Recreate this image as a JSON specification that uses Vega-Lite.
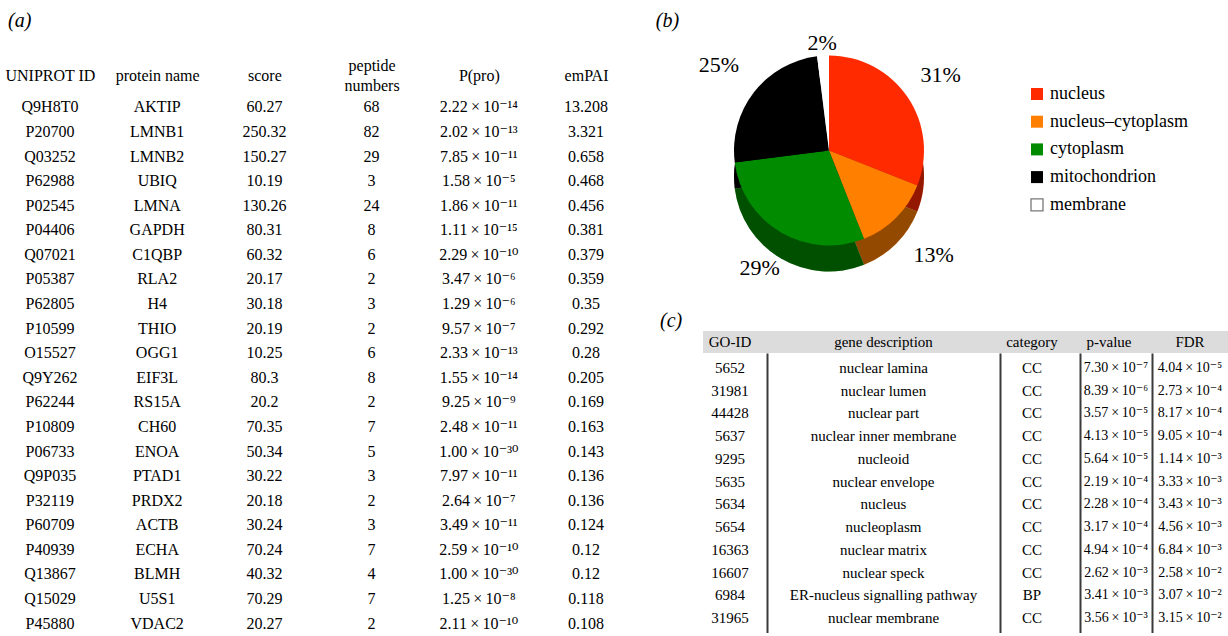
{
  "$schema": "https://vega.github.io/schema/vega-lite/v6.json",
  "background": "white",
  "padding": {"top": 10, "left": 0, "right": 0, "bottom": 0},
  "spacing": 19,
  "resolve": {"scale": {"color": "independent", "theta": "independent", "radius": "independent"}, "legend": {"color": "independent"}},
  "config": {
    "font": "Liberation Serif",
    "view": {"stroke": null},
    "text": {"font": "Liberation Serif, DejaVu Serif", "color": "black"},
    "axis": {"labelFont": "Liberation Serif"},
    "legend": {"labelFont": "Liberation Serif"},
    "title": {"font": "Liberation Serif", "fontSize": 20, "fontStyle": "italic", "fontWeight": "normal", "anchor": "start", "color": "black"}
  },
  "datasets": {
    "proteins": [
      {"id": "Q9H8T0", "name": "AKTIP", "score": 60.27, "pep": 68, "ppro": "2.22\u2009×\u200910⁻¹⁴", "empai": 13.208},
      {"id": "P20700", "name": "LMNB1", "score": 250.32, "pep": 82, "ppro": "2.02\u2009×\u200910⁻¹³", "empai": 3.321},
      {"id": "Q03252", "name": "LMNB2", "score": 150.27, "pep": 29, "ppro": "7.85\u2009×\u200910⁻¹¹", "empai": 0.658},
      {"id": "P62988", "name": "UBIQ", "score": 10.19, "pep": 3, "ppro": "1.58\u2009×\u200910⁻⁵", "empai": 0.468},
      {"id": "P02545", "name": "LMNA", "score": 130.26, "pep": 24, "ppro": "1.86\u2009×\u200910⁻¹¹", "empai": 0.456},
      {"id": "P04406", "name": "GAPDH", "score": 80.31, "pep": 8, "ppro": "1.11\u2009×\u200910⁻¹⁵", "empai": 0.381},
      {"id": "Q07021", "name": "C1QBP", "score": 60.32, "pep": 6, "ppro": "2.29\u2009×\u200910⁻¹⁰", "empai": 0.379},
      {"id": "P05387", "name": "RLA2", "score": 20.17, "pep": 2, "ppro": "3.47\u2009×\u200910⁻⁶", "empai": 0.359},
      {"id": "P62805", "name": "H4", "score": 30.18, "pep": 3, "ppro": "1.29\u2009×\u200910⁻⁶", "empai": 0.35},
      {"id": "P10599", "name": "THIO", "score": 20.19, "pep": 2, "ppro": "9.57\u2009×\u200910⁻⁷", "empai": 0.292},
      {"id": "O15527", "name": "OGG1", "score": 10.25, "pep": 6, "ppro": "2.33\u2009×\u200910⁻¹³", "empai": 0.28},
      {"id": "Q9Y262", "name": "EIF3L", "score": 80.3, "pep": 8, "ppro": "1.55\u2009×\u200910⁻¹⁴", "empai": 0.205},
      {"id": "P62244", "name": "RS15A", "score": 20.2, "pep": 2, "ppro": "9.25\u2009×\u200910⁻⁹", "empai": 0.169},
      {"id": "P10809", "name": "CH60", "score": 70.35, "pep": 7, "ppro": "2.48\u2009×\u200910⁻¹¹", "empai": 0.163},
      {"id": "P06733", "name": "ENOA", "score": 50.34, "pep": 5, "ppro": "1.00\u2009×\u200910⁻³⁰", "empai": 0.143},
      {"id": "Q9P035", "name": "PTAD1", "score": 30.22, "pep": 3, "ppro": "7.97\u2009×\u200910⁻¹¹", "empai": 0.136},
      {"id": "P32119", "name": "PRDX2", "score": 20.18, "pep": 2, "ppro": "2.64\u2009×\u200910⁻⁷", "empai": 0.136},
      {"id": "P60709", "name": "ACTB", "score": 30.24, "pep": 3, "ppro": "3.49\u2009×\u200910⁻¹¹", "empai": 0.124},
      {"id": "P40939", "name": "ECHA", "score": 70.24, "pep": 7, "ppro": "2.59\u2009×\u200910⁻¹⁰", "empai": 0.12},
      {"id": "Q13867", "name": "BLMH", "score": 40.32, "pep": 4, "ppro": "1.00\u2009×\u200910⁻³⁰", "empai": 0.12},
      {"id": "Q15029", "name": "U5S1", "score": 70.29, "pep": 7, "ppro": "1.25\u2009×\u200910⁻⁸", "empai": 0.118},
      {"id": "P45880", "name": "VDAC2", "score": 20.27, "pep": 2, "ppro": "2.11\u2009×\u200910⁻¹⁰", "empai": 0.108}
    ],
    "loc": [
      {"cat": "nucleus", "share": 0.31, "k": 1},
      {"cat": "nucleus–cytoplasm", "share": 0.13, "k": 2},
      {"cat": "cytoplasm", "share": 0.29, "k": 3},
      {"cat": "mitochondrion", "share": 0.25, "k": 4},
      {"cat": "membrane", "share": 0.02, "k": 5}
    ],
    "gohead": [
      {"col": "goid", "label": "GO-ID"},
      {"col": "desc", "label": "gene description"},
      {"col": "cat", "label": "category"},
      {"col": "p", "label": "p-value"},
      {"col": "fdr", "label": "FDR"}
    ],
    "go": [
      {"goid": 5652, "desc": "nuclear lamina", "cat": "CC", "p": "7.30\u2009×\u200910⁻⁷", "fdr": "4.04\u2009×\u200910⁻⁵"},
      {"goid": 31981, "desc": "nuclear lumen", "cat": "CC", "p": "8.39\u2009×\u200910⁻⁶", "fdr": "2.73\u2009×\u200910⁻⁴"},
      {"goid": 44428, "desc": "nuclear part", "cat": "CC", "p": "3.57\u2009×\u200910⁻⁵", "fdr": "8.17\u2009×\u200910⁻⁴"},
      {"goid": 5637, "desc": "nuclear inner membrane", "cat": "CC", "p": "4.13\u2009×\u200910⁻⁵", "fdr": "9.05\u2009×\u200910⁻⁴"},
      {"goid": 9295, "desc": "nucleoid", "cat": "CC", "p": "5.64\u2009×\u200910⁻⁵", "fdr": "1.14\u2009×\u200910⁻³"},
      {"goid": 5635, "desc": "nuclear envelope", "cat": "CC", "p": "2.19\u2009×\u200910⁻⁴", "fdr": "3.33\u2009×\u200910⁻³"},
      {"goid": 5634, "desc": "nucleus", "cat": "CC", "p": "2.28\u2009×\u200910⁻⁴", "fdr": "3.43\u2009×\u200910⁻³"},
      {"goid": 5654, "desc": "nucleoplasm", "cat": "CC", "p": "3.17\u2009×\u200910⁻⁴", "fdr": "4.56\u2009×\u200910⁻³"},
      {"goid": 16363, "desc": "nuclear matrix", "cat": "CC", "p": "4.94\u2009×\u200910⁻⁴", "fdr": "6.84\u2009×\u200910⁻³"},
      {"goid": 16607, "desc": "nuclear speck", "cat": "CC", "p": "2.62\u2009×\u200910⁻³", "fdr": "2.58\u2009×\u200910⁻²"},
      {"goid": 6984, "desc": "ER-nucleus signalling pathway", "cat": "BP", "p": "3.41\u2009×\u200910⁻³", "fdr": "3.07\u2009×\u200910⁻²"},
      {"goid": 31965, "desc": "nuclear membrane", "cat": "CC", "p": "3.56\u2009×\u200910⁻³", "fdr": "3.15\u2009×\u200910⁻²"}
    ]
  },
  "hconcat": [
    {
      "title": {"text": "(a)", "dx": 8, "offset": 26},
      "width": 636,
      "height": 531,
      "data": {"name": "proteins"},
      "transform": [{"fold": ["id", "name", "score", "pep", "ppro", "empai"], "as": ["col", "val"]}],
      "mark": {"type": "text", "fontSize": 16},
      "encoding": {
        "x": {
          "field": "col", "type": "nominal",
          "sort": ["id", "name", "score", "pep", "ppro", "empai"],
          "scale": {"type": "point", "padding": 0.466},
          "axis": {
            "orient": "top", "title": null, "domain": false, "ticks": false, "tickSize": 0, "grid": false,
            "labelPadding": 35, "labelFontSize": 16, "labelFont": "Liberation Serif", "labelColor": "black", "labelAngle": 0,
            "labelBaseline": "middle", "labelLineHeight": 10, "labelLimit": 0, "labelOverlap": false, "labelFlush": false,
            "labelExpr": "datum.value == 'id' ? ['\u200b', 'UNIPROT ID'] : datum.value == 'name' ? ['\u200b', 'protein name'] : datum.value == 'score' ? ['\u200b', 'score'] : datum.value == 'pep' ? ['peptide', '\u200b', 'numbers'] : datum.value == 'ppro' ? ['\u200b', 'P(pro)'] : ['\u200b', 'emPAI']"
          }
        },
        "y": {"field": "id", "type": "nominal", "sort": null, "scale": {"type": "point", "padding": 0.3}, "axis": null},
        "text": {"field": "val", "type": "nominal"}
      }
    },
    {
      "spacing": 32,
      "resolve": {"scale": {"color": "independent", "theta": "independent", "radius": "independent"}, "legend": {"color": "independent"}},
      "vconcat": [
        {
          "title": {"text": "(b)", "dx": -43, "offset": 1},
          "width": 252,
          "height": 101,
          "data": {"name": "loc"},
          "encoding": {
            "theta": {"field": "share", "type": "quantitative", "stack": true},
            "order": {"field": "k", "type": "quantitative"},
            "color": {
              "field": "cat", "type": "nominal",
              "scale": {
                "domain": ["nucleus", "nucleus–cytoplasm", "cytoplasm", "mitochondrion", "membrane"],
                "range": ["#ff2a00", "#ff7f00", "#008b00", "#000000", "#ffffff"]
              },
              "legend": {
                "title": null, "orient": "none", "legendX": 325, "legendY": -15, "padding": 0,
                "symbolType": "square", "symbolSize": 144, "labelFontSize": 18, "labelFont": "Liberation Serif", "labelColor": "black",
                "labelOffset": 4, "rowPadding": 9.7, "labelLimit": 300,
                "encode": {"symbols": {"update": {"stroke": {"signal": "datum.value == 'membrane' ? '#777777' : 'transparent'"}, "strokeWidth": {"value": 1.3}}}}
              }
            }
          },
          "layer": [
            {"mark": {"type": "arc", "radius": 95, "yOffset": 26}},
            {"mark": {"type": "arc", "radius": 95, "yOffset": 26, "opacity": 0.42}, "encoding": {"color": {"value": "black"}}},
            {"mark": {"type": "arc", "radius": 95}},
            {
              "mark": {"type": "text", "fontSize": 22, "font": "Liberation Serif"},
              "encoding": {
                "color": {"value": "black"},
                "radius": {"field": "share", "type": "quantitative", "scale": {"type": "linear", "zero": false, "domain": [0.02, 0.13, 0.31], "range": [108, 148, 135]}},
                "text": {"field": "share", "type": "quantitative", "format": ".0%"}
              }
            }
          ]
        },
        {
          "title": {"text": "(c)", "dx": -43, "offset": 0},
          "spacing": 0,
          "vconcat": [
            {
              "spacing": 0,
              "bounds": "flush",
              "hconcat": [
                {"width": 64, "height": 22, "view": {"fill": "#dcdcdc", "stroke": null}, "data": {"name": "gohead"}, "transform": [{"filter": "datum.col == 'goid'"}], "mark": {"type": "text", "fontSize": 15, "dx": -5, "font": "Liberation Serif"}, "encoding": {"text": {"field": "label", "type": "nominal"}}},
                {"width": 233, "height": 22, "view": {"fill": "#dcdcdc", "stroke": null}, "data": {"name": "gohead"}, "transform": [{"filter": "datum.col == 'desc'"}], "mark": {"type": "text", "fontSize": 15, "font": "Liberation Serif"}, "encoding": {"text": {"field": "label", "type": "nominal"}}},
                {"width": 80, "height": 22, "view": {"fill": "#dcdcdc", "stroke": null}, "data": {"name": "gohead"}, "transform": [{"filter": "datum.col == 'cat'"}], "mark": {"type": "text", "fontSize": 15, "dx": -8, "font": "Liberation Serif"}, "encoding": {"text": {"field": "label", "type": "nominal"}}},
                {"width": 72, "height": 22, "view": {"fill": "#dcdcdc", "stroke": null}, "data": {"name": "gohead"}, "transform": [{"filter": "datum.col == 'p'"}], "mark": {"type": "text", "fontSize": 15, "dx": -7, "font": "Liberation Serif"}, "encoding": {"text": {"field": "label", "type": "nominal"}}},
                {"width": 76, "height": 22, "view": {"fill": "#dcdcdc", "stroke": null}, "data": {"name": "gohead"}, "transform": [{"filter": "datum.col == 'fdr'"}], "mark": {"type": "text", "fontSize": 15, "font": "Liberation Serif"}, "encoding": {"text": {"field": "label", "type": "nominal"}}}
              ]
            },
            {
              "spacing": 0,
              "bounds": "flush",
              "hconcat": [
                {"width": 64, "height": 280, "data": {"name": "go"}, "mark": {"type": "text", "fontSize": 15, "dx": -5}, "encoding": {"y": {"field": "goid", "type": "nominal", "sort": null, "scale": {"type": "point", "padding": 0.65}, "axis": null}, "text": {"field": "goid", "type": "nominal"}}},
                {"width": 233, "height": 280, "data": {"name": "go"}, "mark": {"type": "text", "fontSize": 15}, "encoding": {"y": {"field": "goid", "type": "nominal", "sort": null, "scale": {"type": "point", "padding": 0.65}, "axis": {"orient": "left", "domain": true, "domainColor": "#3a3a3a", "domainWidth": 2, "labels": false, "ticks": false, "grid": false, "title": null}}, "text": {"field": "desc", "type": "nominal"}}},
                {"width": 80, "height": 280, "data": {"name": "go"}, "mark": {"type": "text", "fontSize": 15, "dx": -8}, "encoding": {"y": {"field": "goid", "type": "nominal", "sort": null, "scale": {"type": "point", "padding": 0.65}, "axis": {"orient": "left", "domain": true, "domainColor": "#3a3a3a", "domainWidth": 2, "labels": false, "ticks": false, "grid": false, "title": null}}, "text": {"field": "cat", "type": "nominal"}}},
                {"width": 72, "height": 280, "data": {"name": "go"}, "mark": {"type": "text", "fontSize": 14}, "encoding": {"y": {"field": "goid", "type": "nominal", "sort": null, "scale": {"type": "point", "padding": 0.65}, "axis": {"orient": "left", "domain": true, "domainColor": "#3a3a3a", "domainWidth": 2, "labels": false, "ticks": false, "grid": false, "title": null}}, "text": {"field": "p", "type": "nominal"}}},
                {"width": 76, "height": 280, "data": {"name": "go"}, "mark": {"type": "text", "fontSize": 14}, "encoding": {"y": {"field": "goid", "type": "nominal", "sort": null, "scale": {"type": "point", "padding": 0.65}, "axis": {"orient": "left", "domain": true, "domainColor": "#3a3a3a", "domainWidth": 2, "labels": false, "ticks": false, "grid": false, "title": null}}, "text": {"field": "fdr", "type": "nominal"}}}
              ]
            }
          ]
        }
      ]
    }
  ]
}
